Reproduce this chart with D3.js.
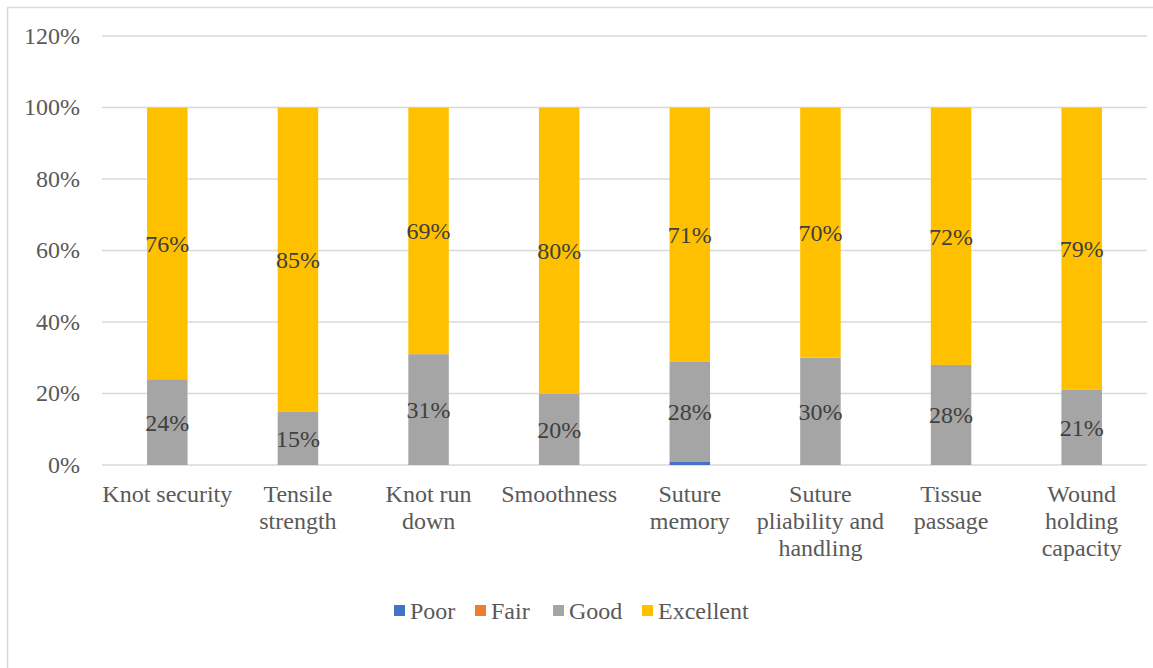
<!DOCTYPE html>
<html><head><meta charset="utf-8">
<script src="https://cdn.jsdelivr.net/npm/d3@7"></script>
<style>body{margin:0;background:#fff}svg{display:block}</style>
</head><body>
<svg id="c" width="1153" height="668"></svg>
<script>
const categories = ["Knot security","Tensile strength","Knot run down","Smoothness","Suture memory","Suture pliability and handling","Tissue passage","Wound holding capacity"];
const categoryLines = [["Knot security"],["Tensile","strength"],["Knot run","down"],["Smoothness"],["Suture","memory"],["Suture","pliability and","handling"],["Tissue","passage"],["Wound","holding","capacity"]];
const seriesNames = ["Poor","Fair","Good","Excellent"];
const poor = [0,0,0,0,1,0,0,0];
const fair = [0,0,0,0,0,0,0,0];
const good = [24,15,31,20,28,30,28,21];
const excellent = [76,85,69,80,71,70,72,79];
const colors = ["#4472c4","#ed7d31","#a5a5a5","#ffc000"];
const yTicks = [0,20,40,60,80,100,120];

const svg = d3.select("#c");
const font = "'Liberation Serif','Times New Roman',serif";
svg.append("rect").attr("x",7.5).attr("y",7.5).attr("width",1160).attr("height",700)
  .attr("fill","#fff").attr("stroke","#d9d9d9").attr("stroke-width",1.5);

const x = d3.scaleBand().domain(categories).range([102,1147]).paddingInner(0.69).paddingOuter(0.345);
const y = d3.scaleLinear().domain([0,120]).range([465,36]);

const g = svg.append("g");
g.selectAll("line.grid").data(yTicks).join("line")
  .attr("x1",102).attr("x2",1147).attr("y1",d=>y(d)).attr("y2",d=>y(d))
  .attr("stroke","#d9d9d9").attr("stroke-width",1.3);
g.selectAll("text.yt").data(yTicks).join("text")
  .attr("x",80).attr("y",d=>y(d)).attr("dy","0.33em").attr("text-anchor","end")
  .attr("font-family",font).attr("font-size",24).attr("fill","#595959").text(d=>d+"%");

const rows = categories.map((c,i)=>({cat:c,Poor:poor[i],Fair:fair[i],Good:good[i],Excellent:excellent[i]}));
const stacked = d3.stack().keys(seriesNames)(rows);
stacked.forEach((s,si)=>{
  const gs = g.append("g");
  gs.selectAll("rect").data(s).join("rect")
    .attr("x",d=>x(d.data.cat)).attr("width",x.bandwidth())
    .attr("y",d=>y(d[1])).attr("height",d=>y(d[0])-y(d[1]))
    .attr("fill",colors[si]);
});
stacked.forEach((s,si)=>{
  if(si<2) return;
  g.append("g").selectAll("text").data(s).join("text")
    .attr("x",d=>x(d.data.cat)+x.bandwidth()/2).attr("y",d=>(y(d[0])+y(d[1]))/2)
    .attr("dy","0.35em").attr("text-anchor","middle")
    .attr("font-family",font).attr("font-size",24).attr("fill","#404040")
    .text(d=>Math.round(d[1]-d[0])+"%");
});
categories.forEach((c,i)=>{
  const t = g.append("text").attr("text-anchor","middle").attr("font-family",font)
    .attr("font-size",24).attr("fill","#595959");
  categoryLines[i].forEach((ln,j)=>{
    t.append("tspan").attr("x",x(c)+x.bandwidth()/2).attr("y",502+27*j).text(ln);
  });
});
const legX = [394,475,553,642];
seriesNames.forEach((n,i)=>{
  svg.append("rect").attr("x",legX[i]).attr("y",605).attr("width",11).attr("height",11).attr("fill",colors[i]);
  svg.append("text").attr("x",legX[i]+16).attr("y",619)
    .attr("font-family",font).attr("font-size",24).attr("fill","#595959").text(n);
});
</script>
</body></html>
